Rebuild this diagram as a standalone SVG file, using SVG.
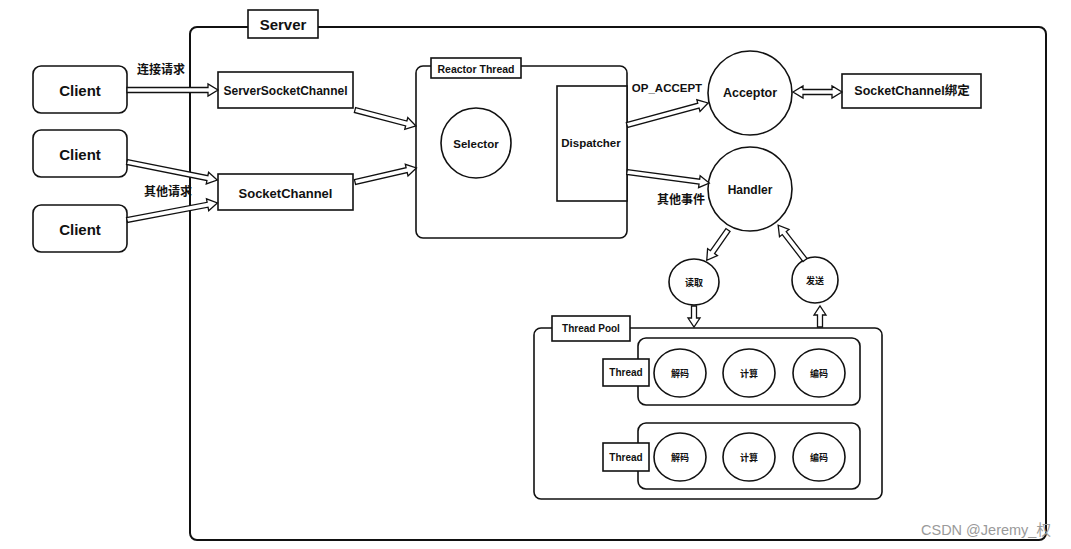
<svg xmlns="http://www.w3.org/2000/svg" width="1071" height="549" viewBox="0 0 1071 549">
<style>
.box{fill:#fff;stroke:#111;stroke-width:1.6}
.frame{fill:none;stroke:#111;stroke-width:2}
.arr{fill:#fff;stroke:#111;stroke-width:1.3;stroke-linejoin:miter}
.t{font-family:"Liberation Sans","Noto Sans CJK SC",sans-serif;font-weight:bold;fill:#111;text-anchor:middle;dominant-baseline:central}
.cjk{font-family:"Noto Sans CJK SC","Liberation Sans",sans-serif;font-weight:bold;fill:#111;text-anchor:middle;dominant-baseline:central}
.wm{font-family:"Liberation Sans","Noto Sans CJK SC",sans-serif;font-size:14.5px;fill:#9a9a9a}
</style>
<rect width="1071" height="549" fill="#fff"/>

<g id="server">
<rect class="frame" x="190" y="27" width="856" height="513" rx="7"/>
<rect class="box" x="248" y="10" width="70" height="28"/>
<text class="t" x="283" y="24" font-size="15">Server</text>
</g>

<g id="client1"><rect class="box" x="33" y="66" width="94" height="47" rx="8"/><text class="t" x="80" y="90" font-size="15">Client</text></g>
<g id="client2"><rect class="box" x="33" y="130" width="94" height="47" rx="8"/><text class="t" x="80" y="154" font-size="15">Client</text></g>
<g id="client3"><rect class="box" x="33" y="205" width="94" height="47" rx="8"/><text class="t" x="80" y="229" font-size="15">Client</text></g>

<g id="serverSocketChannel"><rect class="box" x="218" y="72" width="135" height="36"/><text class="t" x="285.5" y="91" font-size="12">ServerSocketChannel</text></g>
<g id="socketChannel"><rect class="box" x="218" y="174" width="135" height="36"/><text class="t" x="285.5" y="193" font-size="13">SocketChannel</text></g>

<g id="reactorThread">
<rect class="box" x="416" y="66" width="211" height="172" rx="7"/>
<rect class="box" x="431" y="58" width="90" height="20"/>
<text class="t" x="476" y="68.5" font-size="10.5">Reactor Thread</text>
</g>
<g id="selector"><circle class="box" cx="476" cy="143" r="35"/><text class="t" x="476" y="144" font-size="11.5">Selector</text></g>
<g id="dispatcher"><rect class="box" x="557" y="86" width="70" height="115"/><text class="t" x="591" y="143" font-size="11.5">Dispatcher</text></g>

<g id="acceptor"><circle class="box" cx="750" cy="93" r="42"/><text class="t" x="750" y="93" font-size="12.5">Acceptor</text></g>
<g id="handler"><circle class="box" cx="750" cy="189" r="42"/><text class="t" x="750" y="190" font-size="12">Handler</text></g>
<g id="socketChannelBind"><rect class="box" x="842" y="74" width="139" height="34"/><text class="t" x="912" y="91" font-size="12.5">SocketChannel绑定</text></g>

<g id="read"><ellipse class="box" cx="694" cy="282" rx="25" ry="23"/><text class="cjk" x="694" y="282" font-size="9">读取</text></g>
<g id="send"><ellipse class="box" cx="815" cy="280" rx="23" ry="23"/><text class="cjk" x="815" y="280" font-size="9">发送</text></g>

<g id="threadPool">
<rect class="box" x="534" y="328" width="348" height="171" rx="7"/>
<rect class="box" x="552" y="316" width="78" height="25"/>
<text class="t" x="591" y="328.5" font-size="10">Thread Pool</text>
</g>

<g id="thread1">
<rect class="box" x="638" y="338" width="222" height="67" rx="8"/>
<rect class="box" x="603" y="359" width="46" height="27"/>
<text class="t" x="626" y="372.5" font-size="10">Thread</text>
<ellipse class="box" cx="680" cy="373" rx="26" ry="24"/><text class="cjk" x="680" y="373" font-size="9">解码</text>
<ellipse class="box" cx="749" cy="373" rx="26" ry="24"/><text class="cjk" x="749" y="373" font-size="9">计算</text>
<ellipse class="box" cx="819" cy="373" rx="26" ry="24"/><text class="cjk" x="819" y="373" font-size="9">编码</text>
</g>
<g id="thread2">
<rect class="box" x="638" y="423" width="222" height="66" rx="8"/>
<rect class="box" x="603" y="443" width="46" height="28"/>
<text class="t" x="626" y="457" font-size="10">Thread</text>
<ellipse class="box" cx="680" cy="457" rx="26" ry="24"/><text class="cjk" x="680" y="457" font-size="9">解码</text>
<ellipse class="box" cx="749" cy="457" rx="26" ry="24"/><text class="cjk" x="749" y="457" font-size="9">计算</text>
<ellipse class="box" cx="819" cy="457" rx="26" ry="24"/><text class="cjk" x="819" y="457" font-size="9">编码</text>
</g>

<g id="connectors">
<path class="arr" transform="translate(127,90)" d="M0,-2.5H81V-6L91,0L81,6V2.5H0Z"/>
<path class="arr" transform="translate(355,110) rotate(14.7)" d="M0,-2.5H53V-6L63,0L53,6V2.5H0Z"/>
<path class="arr" transform="translate(127,162) rotate(11.3)" d="M0,-2.5H82V-6L92,0L82,6V2.5H0Z"/>
<path class="arr" transform="translate(127,220) rotate(-10.7)" d="M0,-2.5H82V-6L92,0L82,6V2.5H0Z"/>
<path class="arr" transform="translate(355,182) rotate(-12.9)" d="M0,-2.5H53V-6L63,0L53,6V2.5H0Z"/>
<path class="arr" transform="translate(627,125) rotate(-15.2)" d="M0,-2.5H74V-6L84,0L74,6V2.5H0Z"/>
<path class="arr" transform="translate(627,172) rotate(7.6)" d="M0,-2.5H73V-6L83,0L73,6V2.5H0Z"/>
<path class="arr" transform="translate(793,92)" d="M0,0L10,-6V-2.5H39V-6L49,0L39,6V2.5H10V6Z"/>
<path class="arr" transform="translate(728,230) rotate(125)" d="M0,-2.5H27V-6L37,0L27,6V2.5H0Z"/>
<path class="arr" transform="translate(805,260) rotate(-127.6)" d="M0,-2.5H34V-6L44,0L34,6V2.5H0Z"/>
<path class="arr" transform="translate(694,306) rotate(90)" d="M0,-2.5H12V-6L21,0L12,6V2.5H0Z"/>
<path class="arr" transform="translate(820,327) rotate(-90)" d="M0,-2.5H12V-6L21,0L12,6V2.5H0Z"/>
<text class="cjk" x="161" y="68" font-size="12">连接请求</text>
<text class="cjk" x="168" y="190" font-size="12">其他请求</text>
<text class="t" x="667" y="88" font-size="11.5">OP_ACCEPT</text>
<text class="cjk" x="681" y="198" font-size="12">其他事件</text>
</g>

<text class="wm" x="921" y="535">CSDN @Jeremy_权</text>
</svg>
